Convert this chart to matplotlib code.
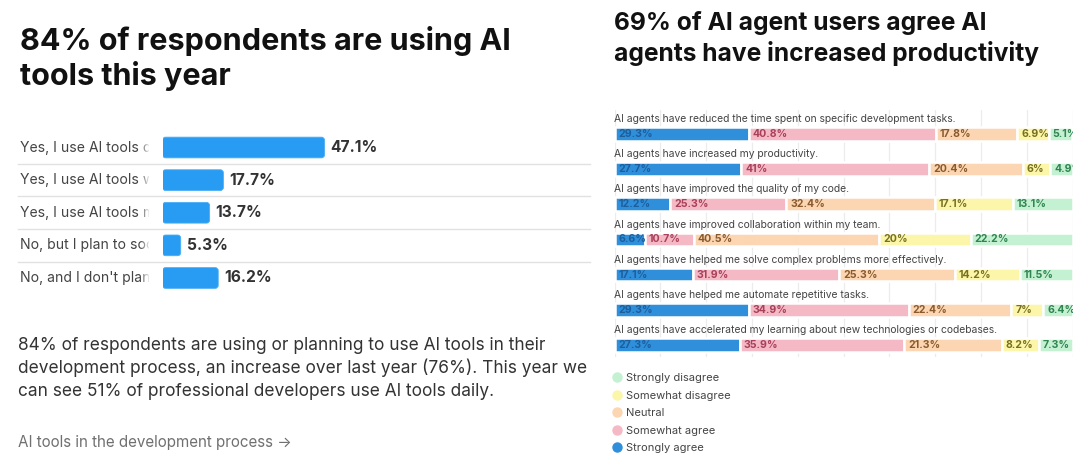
import numpy as np
import matplotlib
matplotlib.use("Agg")
import matplotlib.pyplot as plt
from matplotlib.transforms import blended_transform_factory, Bbox, TransformedBbox
from matplotlib.lines import Line2D
from matplotlib.patches import FancyBboxPatch

plt.rcParams['font.family'] = ['Inter', 'DejaVu Sans']

# ---------------- data ----------------
usage_labels = ["Yes, I use AI tools daily",
                "Yes, I use AI tools weekly",
                "Yes, I use AI tools monthly or infrequently",
                "No, but I plan to soon",
                "No, and I don't plan to"]
usage_values = [47.1, 17.7, 13.7, 5.3, 16.2]

agent_statements = [
    "AI agents have reduced the time spent on specific development tasks.",
    "AI agents have increased my productivity.",
    "AI agents have improved the quality of my code.",
    "AI agents have improved collaboration within my team.",
    "AI agents have helped me solve complex problems more effectively.",
    "AI agents have helped me automate repetitive tasks.",
    "AI agents have accelerated my learning about new technologies or codebases.",
]
strongly_agree = [29.3, 27.7, 12.2, 6.6, 17.1, 29.3, 27.3]
somewhat_agree = [40.8, 41, 25.3, 10.7, 31.9, 34.9, 35.9]
neutral = [17.8, 20.4, 32.4, 40.5, 25.3, 22.4, 21.3]
somewhat_disagree = [6.9, 6, 17.1, 20, 14.2, 7, 8.2]
strongly_disagree = [5.1, 4.9, 13.1, 22.2, 11.5, 6.4, 7.3]

series_names = ["Strongly agree", "Somewhat agree", "Neutral",
                "Somewhat disagree", "Strongly disagree"]
series_values = [strongly_agree, somewhat_agree, neutral,
                 somewhat_disagree, strongly_disagree]
series_colors = ["#2f8fdb", "#f5b9c5", "#fcd6b2", "#fbf6aa", "#c4f1d2"]
series_text = ["#1c5e9c", "#a8405a", "#8a5a2c", "#77701e", "#2f8450"]

left_title = "84% of respondents are using AI\ntools this year"
right_title = "69% of AI agent users agree AI\nagents have increased productivity"
paragraph = ["84% of respondents are using or planning to use AI tools in their",
             "development process, an increase over last year (76%). This year we",
             "can see 51% of professional developers use AI tools daily."]
link_text = "AI tools in the development process \u2192"

# ---------------- figure ----------------
W, H = 1080, 475
fig = plt.figure(figsize=(W / 100, H / 100), dpi=100)
fig.patch.set_facecolor("white")
renderer = fig.canvas.get_renderer()


def fx(px):
    return px / W


def fy(py):
    return 1 - py / H


def axes_px(left, top, right, bottom, **kw):
    return fig.add_axes([fx(left), fy(bottom), (right - left) / W, (bottom - top) / H], **kw)


def fit_width(t, target, sample=None):
    if sample is not None:
        tmp = fig.text(0, 0, sample, fontsize=t.get_fontsize(),
                       fontweight=t.get_fontweight(), family=t.get_fontfamily())
        w = tmp.get_window_extent(renderer=renderer).width
        tmp.remove()
    else:
        w = t.get_window_extent(renderer=renderer).width
    t.set_fontsize(t.get_fontsize() * target / w)
    return t


# ---------------- titles & text ----------------
tl = left_title.split("\n")
t1 = fig.text(fx(20), fy(50), tl[0], fontsize=22, fontweight="bold", color="#111111",
              va="baseline", ha="left")
fit_width(t1, 490)
fig.text(fx(20), fy(85), tl[1], fontsize=t1.get_fontsize(), fontweight="bold",
         color="#111111", va="baseline", ha="left")

tr = right_title.split("\n")
r2 = fig.text(fx(614), fy(61), tr[1], fontsize=17, fontweight="bold", color="#111111",
              va="baseline", ha="left")
fit_width(r2, 424)
fig.text(fx(614), fy(30), tr[0], fontsize=r2.get_fontsize(), fontweight="bold",
         color="#111111", va="baseline", ha="left")

p0 = fig.text(fx(18), fy(345), paragraph[0], fontsize=11.5, color="#333333",
              va="center", ha="left")
fit_width(p0, 526)
for k, line in enumerate(paragraph[1:], start=1):
    fig.text(fx(18), fy(345 + 23 * k), line, fontsize=p0.get_fontsize(), color="#333333",
             va="center", ha="left")
lk = fig.text(fx(18), fy(442), link_text, fontsize=10, color="#707070",
              va="center", ha="left")
fit_width(lk, 277)

# ---------------- left bar chart ----------------
px_per_pct = 3.44
axL = axes_px(162.5, 130, 590, 295)
axL.set_xlim(0, (590 - 162.5) / px_per_pct)
row_px = 32.6
axL.set_ylim(4 + (295 - 278) / row_px, -(147.5 - 130) / row_px)
yL = np.arange(len(usage_values))
barsL = axL.barh(yL, usage_values, height=20.7 / row_px, color="#279cf2")
# rounded corners (same geometry as the bars)
aspect = px_per_pct / row_px
for b in barsL:
    b.set_visible(False)
    axL.add_patch(FancyBboxPatch((b.get_x(), b.get_y()), b.get_width(), b.get_height(),
                                 boxstyle="round,pad=0,rounding_size=0.9",
                                 mutation_aspect=aspect, facecolor="#279cf2",
                                 edgecolor="#4aaef5", linewidth=0.6))
for y, v in zip(yL, usage_values):
    a = axL.annotate(f"{v}%", (v, y), xytext=(6, 0), textcoords="offset pixels",
                     va="center", ha="left", fontsize=10, fontweight="bold",
                     color="#333333")
fit_width(a, 47, sample="47.1%")
fs_val = a.get_fontsize()
for t in axL.texts:
    t.set_fontsize(fs_val)
axL.axis("off")

transL = blended_transform_factory(fig.transFigure, axL.transData)
clipL = TransformedBbox(Bbox([[0, 0], [fx(149), 1]]), fig.transFigure)
tmp_lab = fig.text(0, 0, "Yes, I use AI tools", fontsize=9, color="#444444")
fs_lab = 9 * 118.5 / tmp_lab.get_window_extent(renderer=renderer).width
tmp_lab.remove()
for y, lab in zip(yL, usage_labels):
    fig.text(fx(20), y, lab, transform=transL, fontsize=fs_lab, color="#444444",
             va="center", ha="left", clip_on=True, clip_box=clipL)

# fade-out of truncated labels
axF = axes_px(140, 132, 150, 292, zorder=10)
grad = np.linspace(0, 1, 50)
img = np.ones((2, 50, 4))
img[..., 3] = grad
axF.imshow(img, aspect="auto", extent=(0, 1, 0, 1))
axF.axis("off")

for y in yL[:-1] + 0.5:
    fig.add_artist(Line2D([fx(18), fx(590)], [y, y], transform=transL,
                          color="#e1e1e1", lw=1.0, zorder=20))

# ---------------- right stacked chart ----------------
axR = axes_px(614.5, 110, 1072.5, 357)
axR.set_xlim(0, 100)
rrow = 35.2
axR.set_ylim(6 + (357 - 345) / rrow, -(133.8 - 110) / rrow)
yR = np.arange(len(agent_statements))
left = np.zeros(len(agent_statements))
for name, vals, col, tcol in zip(series_names, series_values, series_colors, series_text):
    vals = np.array(vals, dtype=float)
    axR.barh(yR, vals, left=left, height=13.6 / rrow, color=col, edgecolor="white",
             linewidth=1.8, label=name, zorder=2)
    for y, l0, v in zip(yR, left, vals):
        axR.annotate(f"{v:g}%", (l0, y), xytext=(4, 0), textcoords="offset pixels",
                     va="center", ha="left", fontsize=7, fontweight="bold",
                     color=tcol, clip_on=True, zorder=3)
    left = left + vals
seg = [t for t in axR.texts]
tmp = fig.text(0, 0, "40.8%", fontsize=7, fontweight="bold")
fs_seg = 7 * 35 / tmp.get_window_extent(renderer=renderer).width
tmp.remove()
for t in seg:
    t.set_fontsize(fs_seg)

tmp = fig.text(0, 0, agent_statements[0], fontsize=7, color="#444444")
fs_row = 7 * 343 / tmp.get_window_extent(renderer=renderer).width
tmp.remove()
for y, s in zip(yR, agent_statements):
    axR.text(0, y - 14.8 / rrow, s, fontsize=fs_row, color="#444444", va="center",
             ha="left", zorder=3)

axR.set_xticks(np.arange(0, 101, 10))
axR.set_yticks([])
axR.grid(axis="x", color="#ececec", lw=0.9, zorder=0)
axR.set_axisbelow(True)
axR.tick_params(length=0, labelbottom=False)
for sp in axR.spines.values():
    sp.set_visible(False)

handles = [Line2D([], [], marker="o", ls="none", markersize=6.5,
                  markerfacecolor=c, markeredgecolor=c)
           for c in series_colors[::-1]]
leg = axR.legend(handles, series_names[::-1], loc="upper left",
                 bbox_to_anchor=(fx(613), fy(373)), bbox_transform=fig.transFigure,
                 frameon=False, fontsize=8, labelspacing=0.68, handlelength=0.7,
                 handletextpad=0.45, borderpad=0, borderaxespad=0)
for t in leg.get_texts():
    t.set_color("#444444")

fig.savefig("out.png", dpi=100, facecolor="white")
